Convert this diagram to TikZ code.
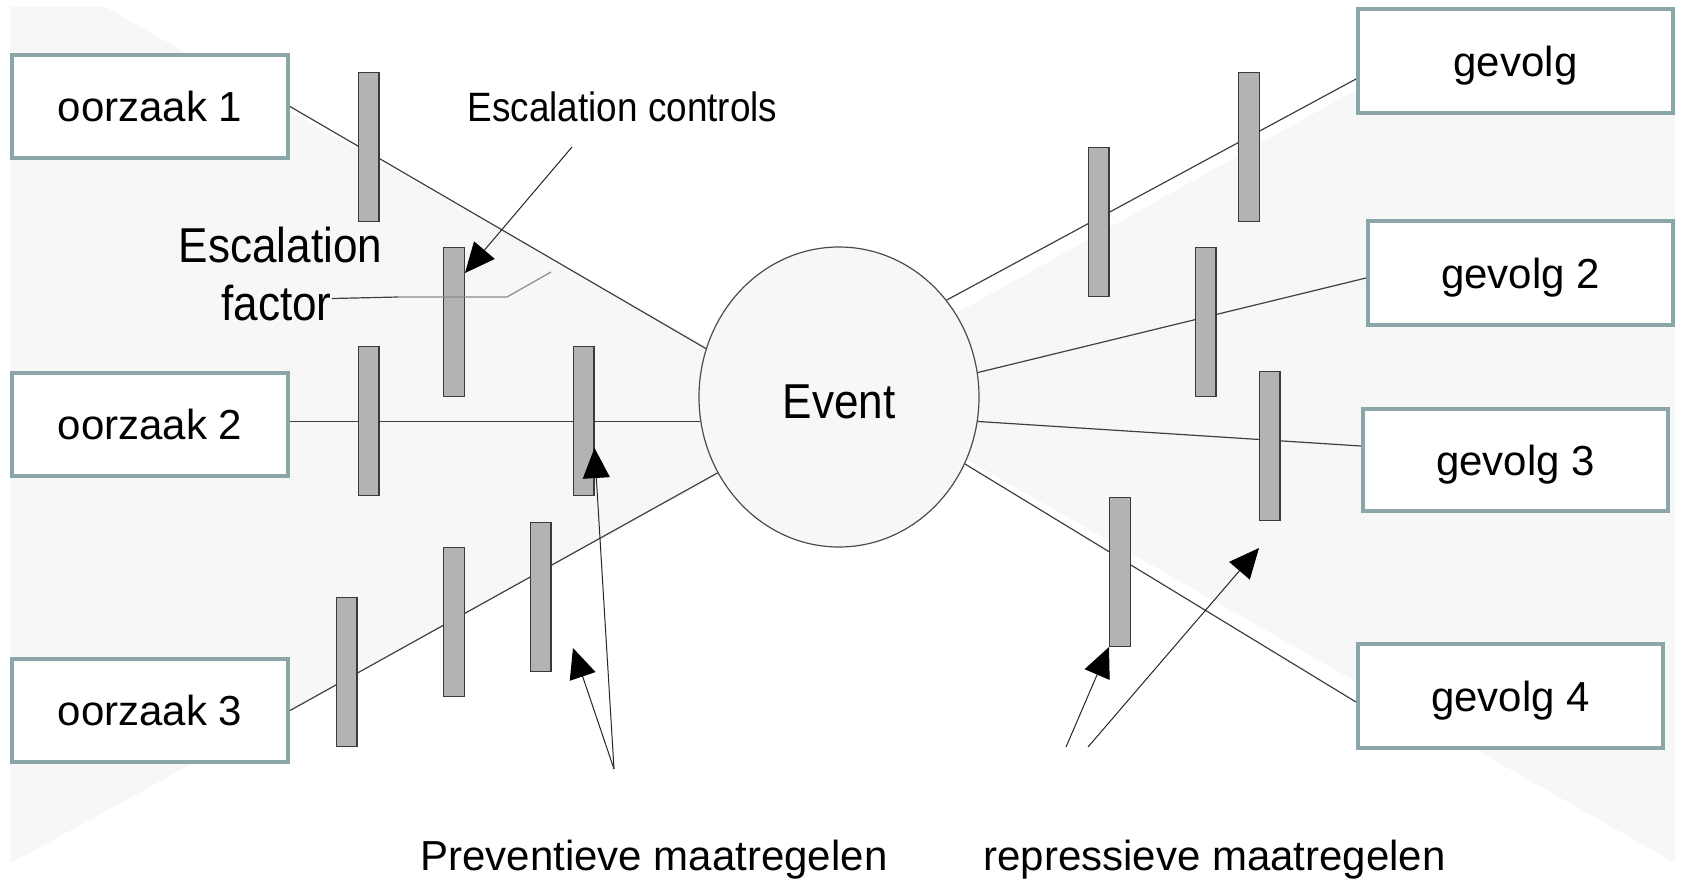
\documentclass[tikz,border=0pt]{standalone}
\usepackage{fontspec}
\setmainfont{Liberation Sans}
\newfontfamily\condfont[FakeStretch=0.9]{Liberation Sans}
\usetikzlibrary{arrows.meta,shapes.geometric}
\definecolor{bowgrey}{HTML}{F7F7F7}
\definecolor{boxedge}{HTML}{8AA6A8}
\definecolor{barfill}{HTML}{B3B3B3}
\definecolor{bardraw}{HTML}{3A3A3A}
\definecolor{linegrey}{HTML}{404040}
\definecolor{lightline}{HTML}{8C8C8C}
\begin{document}
\begin{tikzpicture}[x=1pt,y=-1pt,
  cause/.style={draw=boxedge, line width=4pt, fill=white, minimum width=276pt, minimum height=103pt,
    inner sep=0pt, text height=30pt, text depth=0pt, font=\fontsize{42}{50}\selectfont},
  barbox/.style={draw=bardraw, fill=barfill, line width=1.3pt, minimum width=20.7pt, minimum height=148.7pt, inner sep=0pt},
  link/.style={draw=linegrey, line width=1.2pt},
  lightlink/.style={draw=lightline, line width=1.2pt},
  pointer/.style={draw=black!85, line width=1pt, -{Triangle[length=30pt,width=27pt,color=black]}},
  lbl/.style={inner sep=0pt, anchor=base, font=\fontsize{42}{50}\selectfont}]
\useasboundingbox (0,0) rectangle (1681,879);
\fill[white] (0,0) rectangle (1681,879);
% bow-tie background
\fill[bowgrey] (10,7) -- (105,7) -- (828,415) -- (11,863) -- cycle;
\fill[bowgrey] (1504,7) -- (1675,7) -- (1675,863) -- (832,383) -- cycle;
% event
\node[ellipse, draw=black!70, fill=bowgrey, line width=1.2pt, minimum width=280pt, minimum height=300pt,
  inner sep=0pt, text height=42pt, text depth=0pt, font=\condfont\fontsize{49}{56}\selectfont] (ev) at (839,397) {Event};
% causes and consequences
\node[cause] (o1) at (150,106.5) {oorzaak 1};
\node[cause] (o2) at (150,424) {oorzaak 2};
\node[cause] (o3) at (150,710.5) {oorzaak 3};
\node[cause, minimum width=315pt, minimum height=104pt] (g1) at (1515.5,61) {gevolg};
\node[cause, minimum width=305pt, minimum height=104pt] (g2) at (1520.5,273) {gevolg 2};
\node[cause, minimum width=305pt, minimum height=102pt] (g3) at (1515.5,460) {gevolg 3};
\node[cause, minimum width=305pt, minimum height=104pt] (g4) at (1510.5,696) {gevolg 4};
% links
\draw[link] (o1.east) -- (ev.160);
\draw[link] (o2.east |- ev.190) -- (ev.190);
\draw[link] (o3.east) -- (ev.212);
\draw[link] ([yshift=-18pt]g1.west) -- (ev.42);
\draw[link] ([yshift=-5pt]g2.west) -- (ev.10);
\draw[link] ([yshift=14pt]g3.west) -- (ev.-10);
\draw[link] ([yshift=-6pt]g4.west) -- (ev.-28);
% barriers
\node[barbox] (bA) at (368.5,147) {};
\node[barbox] (bB) at (454,322) {};
\node[barbox] (bC) at (368.5,421) {};
\node[barbox] (bD) at (583.5,421) {};
\node[barbox] (bE) at (346.5,672) {};
\node[barbox] (bF) at (454,622) {};
\node[barbox] (bG) at (540.5,597) {};
\node[barbox] (bH) at (1098.5,222) {};
\node[barbox] (bI) at (1249,147) {};
\node[barbox] (bJ) at (1205.5,322) {};
\node[barbox] (bK) at (1269.5,446) {};
\node[barbox] (bL) at (1120,572) {};
% labels
\node[lbl, font=\condfont\fontsize{41}{48}\selectfont] (ctrl) at (622.5,121) {Escalation controls};
\node[lbl, font=\condfont\fontsize{49}{56}\selectfont] (escA) at (280.5,262) {Escalation};
\node[lbl, font=\condfont\fontsize{49}{56}\selectfont] (escB) at (276.5,320) {factor};
\node[lbl] (prev) at (654,870) {Preventieve maatregelen};
\node[lbl] (rep) at (1214.5,870) {repressieve maatregelen};
% escalation factor connector
\coordinate (ef1) at (398,297);
\coordinate (ef2) at (507,297);
\coordinate (ef3) at (551,272);
\draw[link] ([yshift=4pt]escB.east) -- (ef1);
\draw[lightlink] (ef1) -- (ef2) -- (ef3);
% pointers
\coordinate (cE) at (572,147);
\draw[pointer] (cE) -- ([yshift=-26pt]bB.north east);
\coordinate (cP) at (614,769);
\coordinate (tP) at (573,648);
\draw[pointer] (cP) -- ([yshift=48pt]bD.south east);
\draw[pointer] (cP) -- (tP);
\coordinate (cR1) at (1066,747);
\coordinate (cR2) at (1088,747);
\coordinate (tR) at (1259,548);
\draw[pointer] (cR1) -- (bL.south west);
\draw[pointer] (cR2) -- (tR);
\end{tikzpicture}
\end{document}
